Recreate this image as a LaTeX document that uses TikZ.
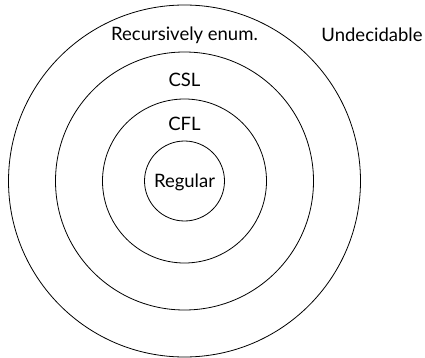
\documentclass[tikz,border=0pt]{standalone}
\usepackage{fontspec}
\setmainfont{Lato}
\begin{document}
\begin{tikzpicture}[x=1pt,y=-1pt,
  ring/.style={draw=black,line width=0.8pt,circle,inner sep=0pt},
  lbl/.style={font=\fontsize{18.5}{22}\selectfont,inner sep=0pt}]
\useasboundingbox (0,0) rectangle (425,358);
% concentric language classes
\node[ring,minimum size=352pt] (re)  at (184.5,181) {};
\node[ring,minimum size=258pt] (csl) at (184.5,181) {};
\node[ring,minimum size=164pt] (cfl) at (184.5,181) {};
\node[ring,minimum size=80pt]  (reg) at (184.5,181) {};
% labels
\node[lbl] (tre)  at (184.5,35) {Recursively enum.};
\node[lbl] (tcsl) at (184.5,80) {CSL};
\node[lbl] (tcfl) at (184.5,124) {CFL};
\node[lbl] (treg) at (184.5,182) {Regular};
\node[lbl] (tund) at (372,35) {Undecidable};
\end{tikzpicture}
\end{document}
